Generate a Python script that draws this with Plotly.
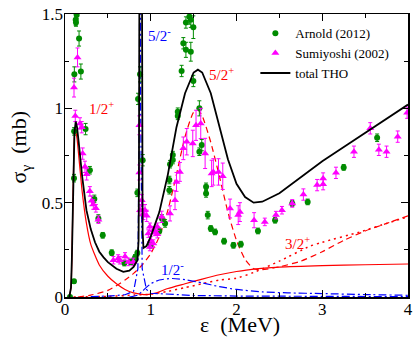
import plotly.graph_objects as go

# ---- data ----
# Arnold (2012): energy, cross section, error
arnold_e = [0.058, 0.105, 0.105, 0.107, 0.109, 0.125, 0.128, 0.136, 0.164, 0.185, 0.24, 0.29, 0.342, 0.389,
            0.44, 0.545, 0.692, 0.77, 0.797, 0.817, 0.844, 0.844, 0.852, 0.875, 0.906, 1.0, 1.10, 1.13, 1.167,
            1.217, 1.217, 1.225, 1.257, 1.257, 1.315, 1.315, 1.36, 1.38, 1.41, 1.41, 1.45, 1.467, 1.467, 1.497,
            1.497, 1.567, 1.567, 1.595, 1.645, 1.645, 1.665, 1.70, 1.75, 1.855, 1.964, 2.05, 2.25, 2.45, 2.65,
            2.83, 3.25, 3.64]
arnold_s = [0.0, 0.083, 0.63, 0.878, 1.18, 1.47, 1.455, 1.495, 1.37, 1.195, 0.89, 0.672, 0.52, 0.416,
            0.327, 0.235, 0.18, 0.186, 0.19, 0.21, 0.233, 0.552, 1.05, 1.18, 0.725, 0.274, 0.35, 0.416, 0.39,
            0.566, 0.62, 0.704, 0.726, 0.752, 0.96, 0.982, 1.198, 1.345, 1.31, 1.455, 1.486, 1.30, 1.469, 1.43,
            1.145, 1.0, 0.77, 0.805, 0.584, 0.549, 0.434, 0.363, 0.345, 0.296, 0.274, 0.28, 0.35, 0.407, 0.496,
            0.504, 0.687, 0.844]
arnold_err = [0.005, 0.01, 0.02, 0.02, 0.04, 0.03, 0.02, 0.02, 0.04, 0.04, 0.03, 0.02, 0.02, 0.02,
              0.015, 0.015, 0.015, 0.015, 0.015, 0.015, 0.015, 0.02, 0.03, 0.04, 0.03, 0.015, 0.015, 0.02, 0.02,
              0.02, 0.02, 0.02, 0.02, 0.02, 0.02, 0.02, 0.03, 0.03, 0.04, 0.03, 0.04, 0.05, 0.04, 0.06,
              0.03, 0.04, 0.02, 0.03, 0.02, 0.02, 0.02, 0.015, 0.015, 0.015, 0.015, 0.015, 0.015, 0.015, 0.015,
              0.015, 0.015, 0.02]

# Sumiyoshi (2002)
sumi_e = [0.105, 0.146, 0.12, 0.175, 0.195, 0.206, 0.233, 0.253, 0.29, 0.31, 0.33, 0.36, 0.39, 0.564,
          0.62, 0.64, 0.70, 0.74, 0.797, 0.867, 0.867, 0.875, 0.895, 0.914, 0.933, 0.953, 0.972, 0.99, 0.99,
          1.0, 1.03, 1.03, 1.05, 1.077, 1.077, 1.128, 1.225, 1.283, 1.30, 1.34, 1.38, 1.42, 1.49, 1.528,
          1.583, 1.634, 1.71, 1.73, 1.79, 1.84, 1.925, 2.02, 2.04, 2.205, 2.33, 2.46, 2.53, 2.65, 2.78, 2.94,
          3.01, 3.01, 3.16, 3.37, 3.56, 3.66, 3.75, 3.88, 3.99]
sumi_s = [1.11, 1.27, 0.96, 0.92, 0.90, 0.76, 0.69, 0.65, 0.56, 0.51, 0.49, 0.47, 0.41, 0.195,
          0.204, 0.195, 0.215, 0.186, 0.186, 0.91, 0.66, 0.46, 0.513, 0.44, 0.46, 0.43, 0.336, 0.372, 0.265,
          0.30, 0.354, 0.283, 0.345, 0.372, 0.333, 0.425, 0.443, 0.513, 0.61, 0.663, 0.788, 0.823, 0.814, 0.91,
          0.92, 0.761, 0.655, 0.663, 0.663, 0.64, 0.469, 0.434, 0.45, 0.407, 0.398, 0.434, 0.46, 0.496, 0.543, 0.593,
          0.598, 0.628, 0.658, 0.77, 0.894, 0.78, 0.77, 0.85, 0.977]
sumi_err = [0.05, 0.05, 0.03, 0.03, 0.03, 0.03, 0.03, 0.03, 0.025, 0.025, 0.025, 0.02, 0.02, 0.02,
            0.02, 0.02, 0.02, 0.02, 0.02, 0.05, 0.04, 0.03, 0.03, 0.03, 0.03, 0.03, 0.02, 0.02, 0.02,
            0.02, 0.02, 0.02, 0.02, 0.02, 0.02, 0.03, 0.04, 0.05, 0.05, 0.05, 0.06, 0.07, 0.07, 0.08,
            0.08, 0.08, 0.07, 0.07, 0.07, 0.07, 0.05, 0.05, 0.05, 0.04, 0.02, 0.02, 0.02, 0.02, 0.03, 0.03,
            0.03, 0.03, 0.03, 0.03, 0.03, 0.03, 0.03, 0.03, 0.03]

# total THO
tho_e = [0.05, 0.07, 0.08, 0.09, 0.10, 0.11, 0.125, 0.14, 0.16, 0.20, 0.25, 0.30, 0.35, 0.40, 0.45, 0.50,
         0.60, 0.68, 0.75, 0.80, 0.845, 0.858, 0.862, 0.864, 0.866, 0.88, 0.896, 0.898, 0.900, 0.905, 0.915,
         0.95, 1.0, 1.1, 1.2, 1.3, 1.4, 1.5, 1.55, 1.6, 1.7, 1.8, 1.9, 2.0, 2.1, 2.2, 2.3, 2.5, 2.7, 3.0,
         3.3, 3.6, 4.0]
tho_s = [0.0, 0.05, 0.2, 0.45, 0.72, 0.87, 0.93, 0.9, 0.82, 0.64, 0.46, 0.36, 0.29, 0.24, 0.21, 0.185,
         0.15, 0.133, 0.14, 0.16, 0.195, 0.3, 0.6, 1.0, 2.0, 4.0, 2.0, 1.0, 0.6, 0.35, 0.26,
         0.27, 0.32, 0.45, 0.65, 0.9, 1.08, 1.19, 1.205, 1.19, 1.08, 0.9, 0.73, 0.6, 0.53, 0.5, 0.505, 0.55, 0.62, 0.72,
         0.81, 0.9, 1.02]

# 1/2+ component (red solid)
p12_e = [0.05, 0.07, 0.08, 0.09, 0.10, 0.11, 0.12, 0.14, 0.17, 0.20, 0.25, 0.30, 0.40, 0.50, 0.60, 0.70,
         0.80, 0.90, 0.95, 1.0, 1.1, 1.2, 1.4, 1.6, 1.8, 2.0, 2.2, 2.5, 3.0, 3.5, 4.0]
p12_s = [0.0, 0.05, 0.2, 0.45, 0.7, 0.85, 0.89, 0.84, 0.7, 0.56, 0.39, 0.28, 0.17, 0.11, 0.07, 0.04,
         0.022, 0.014, 0.013, 0.015, 0.028, 0.045, 0.07, 0.095, 0.118, 0.135, 0.148, 0.158, 0.166, 0.171, 0.175]

# 5/2+ component (red dashed)
p52_e = [0.15, 0.3, 0.5, 0.7, 0.8, 0.9, 1.0, 1.1, 1.2, 1.3, 1.4, 1.5, 1.55, 1.6, 1.7, 1.8, 1.9, 2.0, 2.1,
         2.2, 2.3, 2.5, 2.75, 3.0, 3.25, 3.5, 3.75, 4.0]
p52_s = [0.0, 0.01, 0.035, 0.09, 0.125, 0.17, 0.23, 0.32, 0.46, 0.65, 0.85, 0.98, 0.99, 0.96, 0.82, 0.64,
         0.45, 0.30, 0.2, 0.15, 0.145, 0.16, 0.19, 0.24, 0.3, 0.35, 0.39, 0.43]

# 3/2+ component (red dotted)
p32_e = [0.1, 0.5, 0.8, 1.0, 1.2, 1.4, 1.6, 1.8, 2.0, 2.2, 2.5, 2.86, 3.0, 3.44, 3.75, 4.0]
p32_s = [0.0, 0.003, 0.01, 0.015, 0.03, 0.05, 0.07, 0.09, 0.10, 0.13, 0.19, 0.27, 0.29, 0.345, 0.39, 0.425]

# 1/2- component (blue dash-dot)
m12_e = [0.75, 0.85, 0.9, 1.0, 1.1, 1.25, 1.4, 1.6, 1.8, 2.0, 2.3, 2.6, 3.0, 3.5, 4.0]
m12_s = [0.0, 0.01, 0.03, 0.07, 0.09, 0.098, 0.092, 0.075, 0.055, 0.04, 0.027, 0.022, 0.018, 0.013, 0.009]

# 5/2- component (blue dash-dot, narrow)
m52_e = [0.3, 0.5, 0.7, 0.8, 0.85, 0.868, 0.875, 0.882, 0.9, 0.95, 1.0, 1.5, 2.0, 3.0, 4.0]
m52_s = [0.002, 0.005, 0.012, 0.03, 0.15, 1.0, 3.0, 1.0, 0.15, 0.04, 0.02, 0.008, 0.005, 0.003, 0.002]

labels = ["1/2<sup>+</sup>", "5/2<sup>-</sup>", "5/2<sup>+</sup>", "3/2<sup>+</sup>", "1/2<sup>-</sup>"]
label_x = [0.42, 1.1, 1.83, 2.71, 1.25]
label_y = [1.0, 1.39, 1.18, 0.285, 0.15]
label_c = ["red", "blue", "red", "red", "blue"]

RED = "#ff0000"
BLUE = "#0000ff"
GREEN = "#008b00"
MAG = "#ff00ff"
FONT = "Liberation Serif"

fig = go.Figure()
fig.add_trace(go.Scatter(x=p12_e, y=p12_s, mode="lines", line=dict(color=RED, width=1.2, shape="spline", smoothing=0.6),
                         showlegend=False))
fig.add_trace(go.Scatter(x=p52_e, y=p52_s, mode="lines", line=dict(color=RED, width=1.2, dash="6px,4px", shape="spline", smoothing=0.6),
                         showlegend=False))
fig.add_trace(go.Scatter(x=p32_e, y=p32_s, mode="lines", line=dict(color=RED, width=1.5, dash="2px,4px", shape="spline", smoothing=0.6),
                         showlegend=False))
fig.add_trace(go.Scatter(x=m12_e, y=m12_s, mode="lines", line=dict(color=BLUE, width=1.2, dash="8px,3px,2px,3px", shape="spline", smoothing=0.6),
                         showlegend=False))
fig.add_trace(go.Scatter(x=m52_e, y=m52_s, mode="lines", line=dict(color=BLUE, width=1.2, dash="8px,3px,2px,3px"),
                         showlegend=False))
fig.add_trace(go.Scatter(x=arnold_e, y=arnold_s, mode="markers", name="Arnold (2012)",
                         marker=dict(symbol="circle", size=6, color=GREEN),
                         error_y=dict(type="data", array=arnold_err, color=GREEN, thickness=1, width=2)))
fig.add_trace(go.Scatter(x=sumi_e, y=sumi_s, mode="markers", name="Sumiyoshi (2002)",
                         marker=dict(symbol="triangle-up", size=7, color=MAG),
                         error_y=dict(type="data", array=sumi_err, color=MAG, thickness=1, width=2)))
fig.add_trace(go.Scatter(x=tho_e, y=tho_s, mode="lines", name="total THO",
                         line=dict(color="black", width=1.8)))

for t, x, y, c in zip(labels, label_x, label_y, label_c):
    fig.add_annotation(x=x, y=y, text=t, showarrow=False, font=dict(family=FONT, size=15, color=c))

fig.add_annotation(xref="paper", yref="paper", x=0.51, y=-0.097, yanchor="middle", showarrow=False,
                   text="ε  (MeV)", font=dict(family=FONT, size=22, color="black"))
fig.add_annotation(xref="paper", yref="paper", x=-0.13, y=0.53, xanchor="center", yanchor="middle",
                   textangle=-90, showarrow=False,
                   text="σ<sub>γ</sub>  (mb)", font=dict(family=FONT, size=22, color="black"))

axis_common = dict(showline=True, linecolor="black", linewidth=1.5, mirror="allticks", ticks="inside",
                   tickcolor="black", ticklen=7, tickwidth=1, showgrid=False, zeroline=False, automargin=False,
                   ticklabeloverflow="allow",
                   tickfont=dict(family=FONT, size=17, color="black"))
fig.update_xaxes(range=[0, 4], tickvals=[0, 1, 2, 3, 4], ticklabelstandoff=-4,
                 minor=dict(ticks="inside", ticklen=4, dtick=0.5, tickcolor="black"),
                 **axis_common)
fig.update_yaxes(range=[0, 1.5], tickvals=[0, 0.5, 1, 1.5], ticktext=["0", "0.5", "1", "1.5"],
                 ticklabelstandoff=-3,
                 minor=dict(ticks="inside", ticklen=4, dtick=0.25, tickcolor="black"),
                 **axis_common)
fig.update_layout(width=414, height=337, margin=dict(l=65, r=6, t=14, b=40),
                  plot_bgcolor="white", paper_bgcolor="white",
                  legend=dict(x=0.555, y=0.985, xanchor="left", yanchor="top", bgcolor="rgba(0,0,0,0)",
                              font=dict(family=FONT, size=13, color="black"), tracegroupgap=0, itemwidth=30))
fig.write_html("out.html", config={"staticPlot": True, "displayModeBar": False},
               post_script="document.body.style.margin='0';document.body.style.overflow='hidden';")
